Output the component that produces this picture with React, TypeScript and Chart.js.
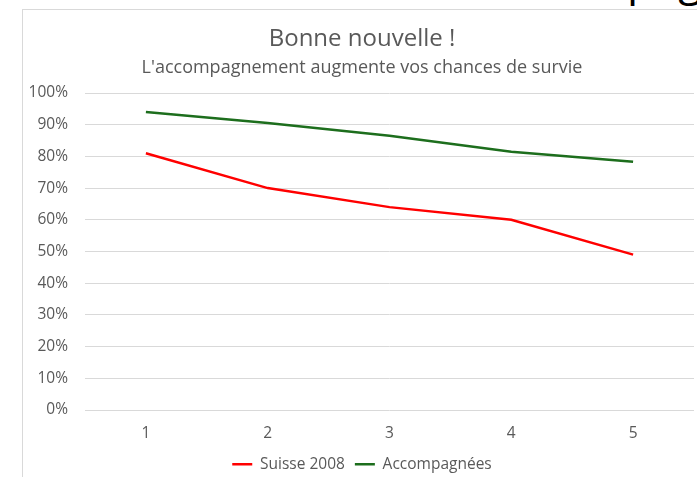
import React, { useEffect, useRef } from "react";
import { Chart, registerables } from "chart.js";

Chart.register(...registerables);

const categories = ["1", "2", "3", "4", "5"];
const suisse2008 = [0.81, 0.70, 0.64, 0.60, 0.49];
const accompagnees = [0.94, 0.905, 0.865, 0.815, 0.783];
const seriesNames = ["Suisse 2008", "Accompagnées"];
const titleText = "Bonne nouvelle !";
const subtitleText = "L'accompagnement augmente vos chances de survie";
const slideFragment = "page";

const FONT = "'Open Sans', sans-serif";
const TEXT = "#595959";

export default function App() {
  const ref = useRef<HTMLCanvasElement>(null);
  useEffect(() => {
    const chart = new Chart(ref.current!, {
      type: "line",
      data: {
        labels: categories,
        datasets: [
          {
            label: seriesNames[0],
            data: suisse2008,
            borderColor: "#ff0000",
            backgroundColor: "#ff0000",
            borderWidth: 2.5,
            pointRadius: 0,
            tension: 0,
          },
          {
            label: seriesNames[1],
            data: accompagnees,
            borderColor: "#1d6e1d",
            backgroundColor: "#1d6e1d",
            borderWidth: 2.5,
            pointRadius: 0,
            tension: 0,
          },
        ],
      },
      options: {
        responsive: false,
        animation: false,
        layout: { padding: { left: 7, right: 3, top: 0, bottom: 8 } },
        plugins: {
          title: {
            display: true,
            text: titleText,
            color: TEXT,
            font: { family: FONT, size: 24, weight: "normal" },
            padding: { top: 14.6, bottom: 0 },
          },
          subtitle: {
            display: true,
            text: subtitleText,
            color: TEXT,
            font: { family: FONT, size: 18, weight: "normal" },
            padding: { top: 3.8, bottom: 14.2 },
          },
          legend: {
            position: "bottom",
            labels: {
              color: TEXT,
              font: { family: FONT, size: 15.5 },
              usePointStyle: true,
              pointStyle: "line",
              pointStyleWidth: 20,
              padding: 10,
            },
          },
          tooltip: { enabled: false },
        },
        scales: {
          x: {
            type: "category",
            offset: true,
            grid: { display: false, drawTicks: false },
            border: { display: false },
            ticks: {
              color: TEXT,
              font: { family: FONT, size: 15.5 },
              padding: 14,
            },
            afterFit: (s: any) => {
              s.height = 36.5;
            },
          },
          y: {
            min: 0,
            max: 1,
            grid: { color: "#d9d9d9", lineWidth: 1, drawTicks: false },
            border: { display: false },
            ticks: {
              stepSize: 0.1,
              color: TEXT,
              font: { family: FONT, size: 15.5 },
              padding: 17,
              callback: (v: any) => Math.round(Number(v) * 100) + "%",
            },
            afterFit: (s: any) => {
              s.width = 55;
            },
          },
        },
      },
    });
    return () => chart.destroy();
  }, []);

  return (
    <div
      style={{
        position: "fixed",
        left: 0,
        top: 0,
        width: 697,
        height: 477,
        background: "#fff",
        overflow: "hidden",
      }}
    >
      <span
        style={{
          position: "absolute",
          left: 627,
          top: -44,
          fontFamily: FONT,
          fontSize: 44,
          lineHeight: 1,
          color: "#000",
          whiteSpace: "nowrap",
        }}
      >
        {slideFragment}
      </span>
      <div
        style={{
          position: "absolute",
          left: 22,
          top: 9,
          width: 690,
          height: 490,
          borderLeft: "1px solid #d9d9d9",
          borderTop: "1px solid #d9d9d9",
          background: "#fff",
        }}
      >
        <canvas ref={ref} width={674} height={480} style={{ display: "block" }} />
      </div>
    </div>
  );
}
